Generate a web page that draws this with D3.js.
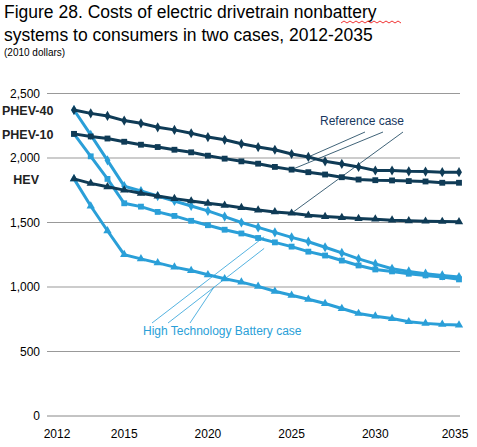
<!DOCTYPE html>
<html><head><meta charset="utf-8">
<script src="https://cdn.jsdelivr.net/npm/d3@7"></script>
<style>body{margin:0;background:#fff}text{font-family:Arial,"Liberation Sans",sans-serif}</style>
</head><body><svg id="c" width="477" height="447"></svg>
<script>
const years = d3.range(2012, 2036)
const yTicks = [0, 500, 1000, 1500, 2000, 2500]
const xTicks = [2012, 2015, 2020, 2025, 2030, 2035]
const refPhev40 = [2372,2346,2326,2290,2269,2238,2218,2192,2162,2141,2110,2085,2064,2031,2008,1974,1954,1931,1903,1903,1897,1895,1890,1890]
const refPhev10 = [2187,2167,2151,2126,2103,2085,2064,2044,2018,1995,1974,1956,1931,1910,1890,1872,1851,1833,1828,1826,1821,1818,1808,1808]
const refHev = [1838,1803,1777,1751,1726,1705,1685,1667,1649,1633,1615,1597,1582,1572,1556,1546,1538,1531,1526,1518,1513,1510,1508,1505]
const htbPhev40 = [2372,2179,1982,1782,1744,1705,1667,1628,1590,1546,1500,1462,1423,1385,1351,1308,1264,1218,1179,1141,1121,1103,1090,1077]
const htbPhev10 = [2187,2013,1838,1649,1623,1582,1551,1513,1479,1444,1415,1380,1346,1313,1274,1244,1205,1167,1136,1121,1103,1090,1077,1059]
const htbHev = [1838,1628,1436,1251,1218,1187,1154,1128,1095,1064,1038,1005,967,936,905,872,833,795,774,756,731,718,710,705]

const dark = '#0f3b56', light = '#2a9fd8'
const series = [
  { v: htbHev, c: light, m: d3.symbolTriangle },
  { v: htbPhev10, c: light, m: d3.symbolSquare },
  { v: htbPhev40, c: light, m: d3.symbolDiamond },
  { v: refHev, c: dark, m: d3.symbolTriangle },
  { v: refPhev10, c: dark, m: d3.symbolSquare },
  { v: refPhev40, c: dark, m: d3.symbolDiamond }
]

const svg = d3.select('#c')
const x = d3.scaleLinear().domain([2012, 2035]).range([74, 459])
const y = d3.scaleLinear().domain([0, 2500]).range([416, 93.5])

svg.append('text').attr('x', 4).attr('y', 18).attr('font-size', 17.5).text('Figure 28. Costs of electric drivetrain nonbattery')
svg.append('path').attr('fill', 'none').attr('stroke', '#e00').attr('stroke-width', 0.8)
  .attr('d', d3.range(0, 21).map((i) => (i ? 'L' : 'M') + (341 + i * 3) + ',' + (i % 2 ? 21 : 23)).join(''))
svg.append('text').attr('x', 4).attr('y', 41).attr('font-size', 17.5).text('systems to consumers in two cases, 2012-2035')
svg.append('text').attr('x', 4).attr('y', 56).attr('font-size', 10).text('(2010 dollars)')

svg.append('g').selectAll('line').data(yTicks.slice(1)).join('line')
  .attr('x1', 47).attr('x2', 460).attr('y1', d => y(d)).attr('y2', d => y(d))
  .attr('stroke', '#999').attr('stroke-width', 1)
svg.append('line').attr('x1', 47).attr('x2', 460).attr('y1', y(0)).attr('y2', y(0)).attr('stroke', '#888')

svg.append('g').selectAll('text').data(yTicks).join('text')
  .attr('x', 40).attr('y', d => y(d) + 4).attr('text-anchor', 'end').attr('font-size', 12)
  .text(d => d3.format(',')(d))
svg.append('g').selectAll('text').data(xTicks).join('text')
  .attr('x', d => x(d) - (d === 2012 ? 17 : d === 2035 ? 4 : 0)).attr('y', 438)
  .attr('text-anchor', 'middle').attr('font-size', 12).text(d => d)

const line = d3.line().x((d, i) => x(years[i])).y(d => y(d))
series.forEach(s => {
  svg.append('path').datum(s.v).attr('d', line).attr('fill', 'none')
    .attr('stroke', s.c).attr('stroke-width', 3)
  svg.append('g').selectAll('path').data(s.v).join('path')
    .attr('transform', (d, i) => `translate(${x(years[i])},${y(d)})`)
    .attr('d', d3.symbol().type(s.m).size(s.m === d3.symbolSquare ? 34 : 30))
    .attr('fill', s.c)
})

// annotation leader lines
const refLines = [[365, 132, 2026, refPhev40[14]], [383, 132, 2025, refPhev10[13]], [403, 132, 2025, refHev[13]]]
refLines.forEach(([x0, y0, yr, v]) => svg.append('line').attr('x1', x0).attr('y1', y0)
  .attr('x2', x(yr)).attr('y2', y(v)).attr('stroke', dark).attr('stroke-width', 0.8))
const htbLines = [[152, 323, 2023, 1420], [168, 323, 2023, 1330], [190, 323, 2020, 1030]]
htbLines.forEach(([x0, y0, yr, v]) => svg.append('line').attr('x1', x0).attr('y1', y0)
  .attr('x2', x(yr) + 6).attr('y2', y(v) + 4).attr('stroke', light).attr('stroke-width', 0.8))
svg.append('text').attr('x', 320).attr('y', 125).attr('font-size', 12).attr('fill', '#17375e').text('Reference case')
svg.append('text').attr('x', 143).attr('y', 335).attr('font-size', 12).attr('fill', light).text('High Technology Battery case')

const lab = (t, v, xx, anchor) => svg.append('text').attr('x', xx).attr('y', y(v) + 5)
  .attr('text-anchor', anchor).attr('font-size', 12.5).attr('font-weight', 'bold').attr('fill', '#222').text(t)
lab('PHEV-40', refPhev40[0], 2, 'start')
lab('PHEV-10', refPhev10[0], 2, 'start')
lab('HEV', refHev[0], 39, 'end')
</script></body></html>
